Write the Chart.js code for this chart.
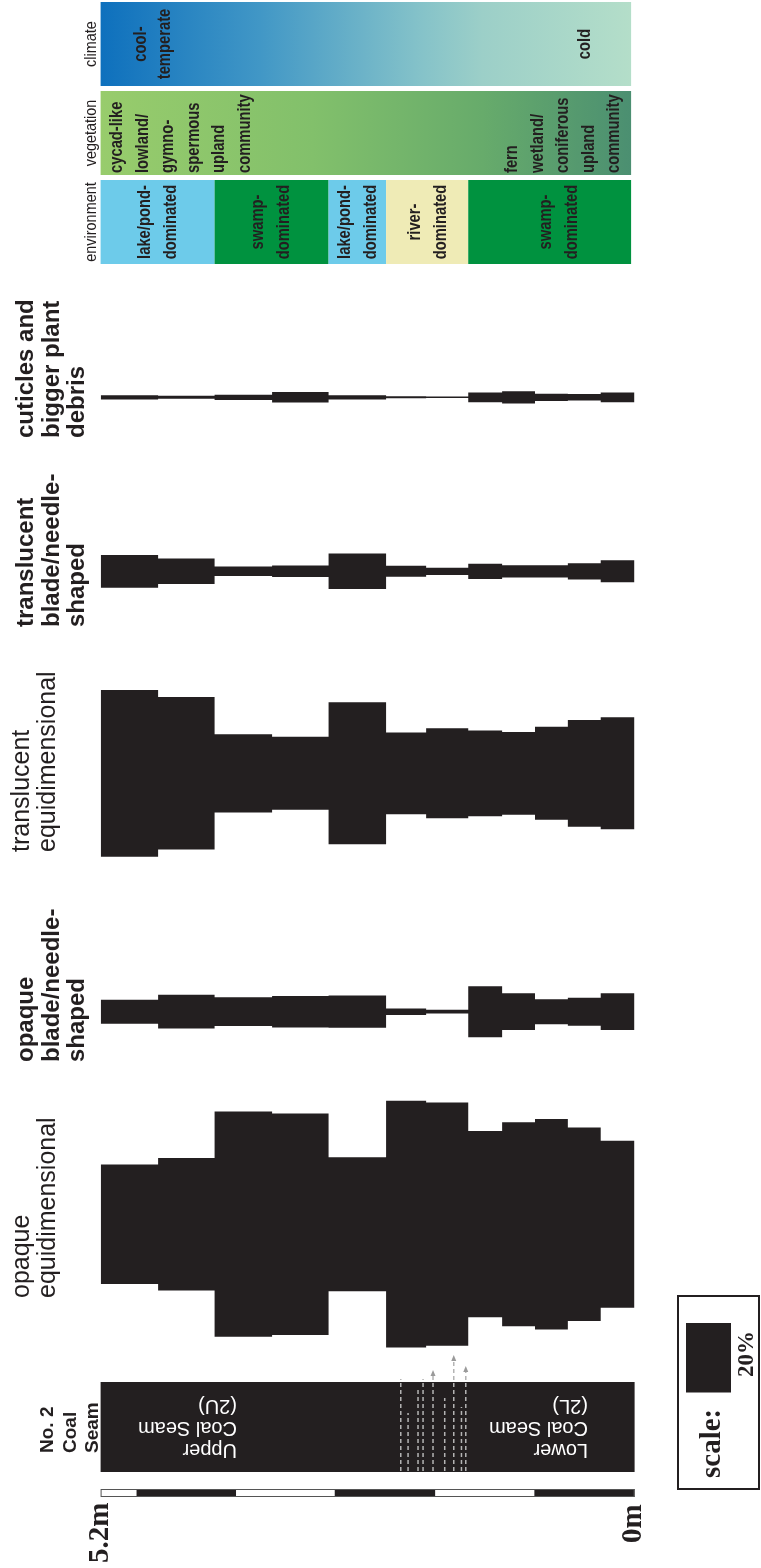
<!DOCTYPE html>
<html>
<head>
<meta charset="utf-8">
<script src="https://cdn.jsdelivr.net/npm/chart.js@4.4.0/dist/chart.umd.min.js"></script>
<style>
  html, body { margin: 0; padding: 0; background: #ffffff; }
  canvas { display: block; }
</style>
</head>
<body>
<canvas id="chart" width="761" height="1568"></canvas>
<script>
// ---- Sample intervals through the No. 2 coal seam (depth in m, 5.2 m = top) ----
const depthBounds = [5.2, 4.64, 4.09, 3.53, 2.98, 2.42, 2.03, 1.62, 1.29, 0.97, 0.65, 0.33, 0];

// ---- Phytoclast proportions (%) for each interval, top to bottom ----
const opaqueEqui  = [34.4, 38.1, 64.8, 63.7, 38.6, 71.0, 70.0, 53.6, 58.7, 60.6, 55.7, 48.1];
const opaqueBlade = [6.9, 9.7, 8.3, 9.1, 9.3, 1.9, 1.1, 14.7, 10.6, 7.2, 8.1, 10.6];
const translEqui  = [48.0, 43.9, 22.5, 21.0, 40.9, 23.5, 25.9, 24.7, 23.8, 26.8, 30.7, 32.2];
const translBlade = [9.4, 7.3, 2.7, 3.3, 10.2, 3.2, 2.1, 4.4, 3.5, 3.5, 4.7, 6.3];
const cuticles    = [1.2, 0.9, 1.5, 3.0, 1.2, 0.6, 0.4, 2.8, 3.5, 2.1, 1.9, 2.8];

// ---- Interpreted depositional environments ----
const envFrom  = [5.2, 4.09, 2.98, 2.42, 1.62];
const envTo    = [4.09, 2.98, 2.42, 1.62, 0];
const envTypes = ['lake', 'swamp', 'lake', 'river', 'swamp'];
const envText  = [['lake/pond-', 'dominated'], ['swamp-', 'dominated'], ['lake/pond-', 'dominated'],
                  ['river-', 'dominated'], ['swamp-', 'dominated']];

// ---- Vegetation and climate annotations ----
const vegText     = [['cycad-like', 'lowland/', 'gymno-', 'spermous', 'upland', 'community'],
                     ['fern', 'wetland/', 'coniferous', 'upland', 'community']];
const climateText = [['cool-', 'temperate'], ['cold']];

// ---- Depth scale bar (alternating segments) and partings in the seam ----
const scaleBarBreaks = [5.2, 4.85, 3.88, 2.92, 1.94, 0.976, 0];
const partingDepths  = [2.277, 2.206, 2.109, 2.060, 1.963, 1.849, 1.761, 1.686, 1.644];
const legendPercent  = 20;

// ---- Layout (pixels) ----
const PX_PER_PCT = 3.475;
const Y_MAX = 1568 / PX_PER_PCT;
const KITE = '#231f20';
const kiteRows = [ // centre line of each column, px from the top
  { data: cuticles,    centre: 397.3 },
  { data: translBlade, centre: 571.3 },
  { data: translEqui,  centre: 773.3 },
  { data: opaqueBlade, centre: 1011.7 },
  { data: opaqueEqui,  centre: 1224.2 }
];
const envColors = { lake: '#6dcbea', swamp: '#00923f', river: '#efebb6' };
const partingTops = [1379, 1413, 1388, 1379, 1370, 1398, 1355, 1407, 1366];
const partingArrow = [false, false, false, false, true, false, true, false, true];
const envBaselines = [150, 263, 350, 420, 551];

function stepPoints(values, centrePx, sign) {
  const c = centrePx / PX_PER_PCT;
  const pts = values.map((v, i) => ({ x: depthBounds[i], y: c + sign * v / 2 }));
  pts.push({ x: depthBounds[depthBounds.length - 1], y: c + sign * values[values.length - 1] / 2 });
  return pts;
}

const datasets = [];
kiteRows.forEach(row => {
  datasets.push({
    data: stepPoints(row.data, row.centre, -1),
    stepped: true, borderWidth: 0, pointRadius: 0, fill: false,
    borderColor: KITE, backgroundColor: KITE
  });
  datasets.push({
    data: stepPoints(row.data, row.centre, 1),
    stepped: true, borderWidth: 0, pointRadius: 0, fill: '-1',
    borderColor: KITE, backgroundColor: KITE
  });
});

function rotText(ctx, lines, bx, by, o) {
  const opt = Object.assign({ lh: 25.5, align: 'left', rot: -Math.PI / 2, sx: 1, color: '#231f20' }, o);
  ctx.save();
  ctx.translate(bx, by);
  ctx.rotate(opt.rot);
  ctx.scale(opt.sx, 1);
  ctx.font = opt.font;
  ctx.fillStyle = opt.color;
  ctx.textAlign = opt.align;
  ctx.textBaseline = 'alphabetic';
  lines.forEach((t, i) => ctx.fillText(t, 0, i * opt.lh));
  ctx.restore();
}

const decor = {
  id: 'decor',
  beforeDatasetsDraw(chart) {
    const { ctx, scales: { x, y } } = chart;
    const X = d => x.getPixelForValue(d);
    const left = X(5.2), right = X(0);
    const bandRight = right - 3.5;
    ctx.save();

    // climate band
    let g = ctx.createLinearGradient(left, 0, bandRight, 0);
    g.addColorStop(0, '#0e70bd'); g.addColorStop(0.3, '#4197c6');
    g.addColorStop(0.6, '#84c2c9'); g.addColorStop(0.72, '#9ccfc8'); g.addColorStop(1, '#b4dec9');
    ctx.fillStyle = g;
    ctx.fillRect(left, 2, bandRight - left, 84);

    // vegetation band
    g = ctx.createLinearGradient(left, 0, bandRight, 0);
    g.addColorStop(0, '#98cc6c'); g.addColorStop(0.4, '#82c06b');
    g.addColorStop(0.72, '#67ab6b'); g.addColorStop(1, '#4b8f71');
    ctx.fillStyle = g;
    ctx.fillRect(left, 91, bandRight - left, 84);

    // environment cells
    envTypes.forEach((t, i) => {
      const a = X(envFrom[i]), b = Math.min(X(envTo[i]), bandRight);
      ctx.fillStyle = envColors[t];
      ctx.fillRect(a, 180, b - a, 84);
    });

    // coal seam column
    ctx.fillStyle = KITE;
    ctx.fillRect(left, 1382, right - left, 90);

    // partings in the seam
    ctx.strokeStyle = '#b4b4b4';
    ctx.lineWidth = 1.5;
    ctx.setLineDash([4, 3]);
    partingDepths.forEach((d, i) => {
      const px = X(d);
      ctx.beginPath();
      ctx.moveTo(px, 1471);
      ctx.lineTo(px, partingTops[i] + (partingArrow[i] ? 4 : 0));
      ctx.stroke();
    });
    ctx.setLineDash([]);
    ctx.fillStyle = '#9a9a9a';
    partingDepths.forEach((d, i) => {
      if (!partingArrow[i]) return;
      const px = X(d), t = partingTops[i];
      ctx.beginPath();
      ctx.moveTo(px, t); ctx.lineTo(px - 2.5, t + 6); ctx.lineTo(px + 2.5, t + 6);
      ctx.closePath(); ctx.fill();
    });

    // depth scale bar
    for (let i = 0; i < scaleBarBreaks.length - 1; i++) {
      const a = X(scaleBarBreaks[i]), b = X(scaleBarBreaks[i + 1]);
      ctx.fillStyle = i % 2 === 0 ? '#ffffff' : KITE;
      ctx.fillRect(a, 1489, b - a, 8);
    }
    ctx.strokeStyle = '#555';
    ctx.lineWidth = 1;
    ctx.strokeRect(left + 0.5, 1489.5, right - left - 1, 7);

    // legend box with 20 % bar
    ctx.strokeStyle = '#231f20';
    ctx.lineWidth = 2;
    ctx.strokeRect(678, 1296, 81, 193);
    const barH = y.getPixelForValue(legendPercent) - y.getPixelForValue(0);
    ctx.fillStyle = KITE;
    ctx.fillRect(686, 1323, 45, barH);

    ctx.restore();
  },
  afterDraw(chart) {
    const { ctx } = chart;
    const sans = 'Liberation Sans, Arial, sans-serif';
    const serif = 'Liberation Serif, Times New Roman, serif';

    // column headings
    rotText(ctx, ['opaque', 'equidimensional'], 28.5, 1298, { font: `25px ${sans}`, lh: 26 });
    rotText(ctx, ['opaque', 'blade/needle-', 'shaped'], 33, 1062, { font: `bold 24px ${sans}` });
    rotText(ctx, ['translucent', 'equidimensional'], 28.5, 852, { font: `25px ${sans}`, lh: 26 });
    rotText(ctx, ['translucent', 'blade/needle-', 'shaped'], 33, 627, { font: `bold 24px ${sans}` });
    rotText(ctx, ['cuticles and', 'bigger plant', 'debris'], 33, 438, { font: `bold 24px ${sans}` });
    rotText(ctx, ['No. 2', 'Coal', 'Seam'], 53, 1453, { font: `bold 19px ${sans}`, lh: 22.5 });

    // band headings
    const narrow = { font: `17px ${sans}`, sx: 0.85, align: 'center' };
    rotText(ctx, ['climate'], 96, 44, narrow);
    rotText(ctx, ['vegetation'], 96, 133, narrow);
    rotText(ctx, ['environment'], 96, 222, narrow);

    // band annotations
    const bandFont = { font: `bold 18px ${sans}`, sx: 0.82 };
    rotText(ctx, climateText[0], 146, 44, Object.assign({ align: 'center', lh: 24 }, bandFont));
    rotText(ctx, climateText[1], 590, 44, Object.assign({ align: 'center' }, bandFont));
    rotText(ctx, vegText[0], 122, 173, bandFont);
    rotText(ctx, vegText[1], 517, 173, bandFont);
    envText.forEach((lines, i) => {
      rotText(ctx, lines, envBaselines[i], 222, Object.assign({ align: 'center', lh: 26 }, bandFont));
    });

    // seam names
    const seam = { font: `20px ${sans}`, rot: Math.PI, lh: 22, color: '#ffffff' };
    rotText(ctx, ['Upper', 'Coal Seam', '(2U)'], 237, 1444, seam);
    rotText(ctx, ['Lower', 'Coal Seam', '(2L)'], 588, 1444, seam);

    // depth labels and legend text
    rotText(ctx, ['5.2m'], 108, 1563, { font: `bold 29px ${serif}` });
    rotText(ctx, ['0m'], 641, 1543, { font: `bold 29px ${serif}` });
    rotText(ctx, ['scale:'], 720, 1478, { font: `bold 29px ${serif}` });
    rotText(ctx, ['20%'], 753, 1377, { font: `bold 23px ${serif}` });
  }
};

new Chart(document.getElementById('chart'), {
  type: 'line',
  data: { datasets },
  options: {
    responsive: false,
    animation: false,
    events: [],
    layout: { padding: { left: 100.6, right: 126.4, top: 0, bottom: 0 } },
    plugins: { legend: { display: false }, tooltip: { enabled: false } },
    scales: {
      x: { type: 'linear', min: 0, max: 5.2, reverse: true, display: false },
      y: { type: 'linear', min: 0, max: Y_MAX, reverse: true, display: false }
    }
  },
  plugins: [decor]
});
</script>
</body>
</html>
